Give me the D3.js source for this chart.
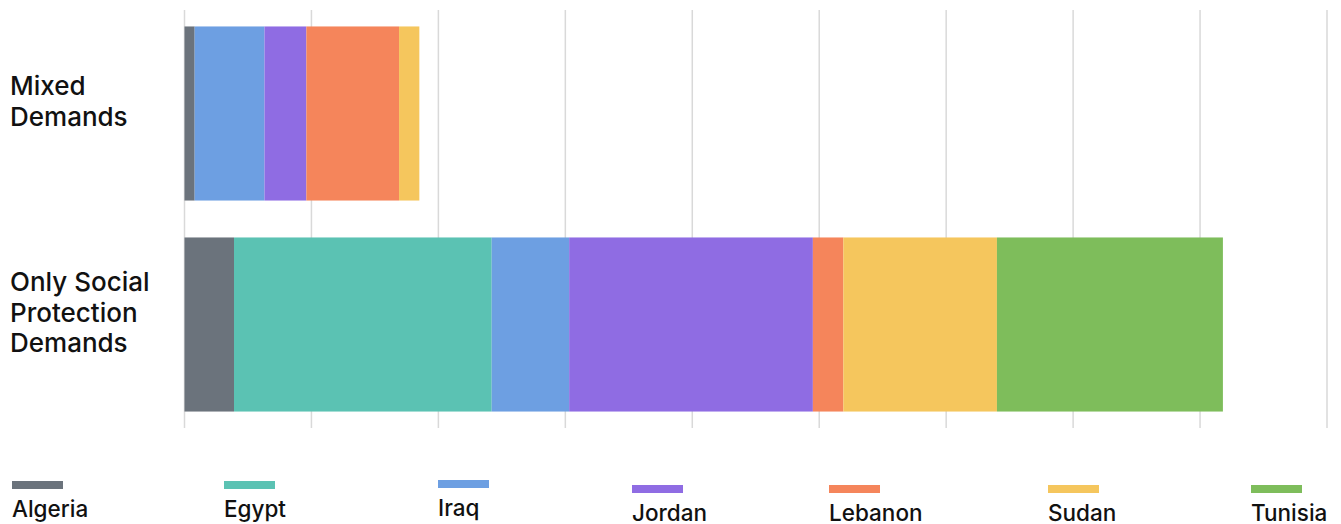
<!DOCTYPE html>
<html lang="en">
<head>
    <meta charset="UTF-8">
    <title>Demands by country</title>
    <script src="https://d3js.org/d3.v7.min.js"></script>
    <style>
        body { margin: 0; background: #fff; }
        text {
            font-family: Inter, "Noto Sans", sans-serif;
            font-weight: 500;
            fill: #111;
        }
        .cat { font-size: 26px; }
        .legend text { font-size: 22.5px; }
        .grid line { stroke: #d9d9d9; stroke-width: 1.5; }
    </style>
</head>
<body>
<script>
    const width = 1341;
    const height = 524;

    // data
    const categories = ["Mixed Demands", "Only Social Protection Demands"];
    const categoryLines = [["Mixed", "Demands"], ["Only Social", "Protection", "Demands"]];
    const countries = ["Algeria", "Egypt", "Iraq", "Jordan", "Lebanon", "Sudan", "Tunisia"];
    const mixed = [0.8, 0, 5.5, 3.3, 7.3, 1.6, 0];
    const socialOnly = [3.9, 20.3, 6.1, 19.2, 2.4, 12.1, 17.8];
    const colors = ["#6b737c", "#5bc2b3", "#6d9fe2", "#8f6ce3", "#f5855b", "#f5c65d", "#7ebd5b"];
    const ticks = [0, 10, 20, 30, 40, 50, 60, 70, 80, 90];

    // legend layout
    const legendX = [12, 224, 438, 632, 829, 1048, 1251];
    const legendDy = [0, 0, -1, 4, 4, 4, 4];

    const rows = categories.map((c, i) => {
        const vals = i === 0 ? mixed : socialOnly;
        const r = { category: c };
        countries.forEach((k, j) => r[k] = vals[j]);
        return r;
    });

    const x = d3.scaleLinear().domain([0, 90]).range([184.5, 1327]);
    const y = d3.scaleBand().domain(categories).range([10, 428])
        .paddingInner(0.175).paddingOuter(0.078);
    const color = d3.scaleOrdinal().domain(countries).range(colors);

    const series = d3.stack().keys(countries)(rows);

    const svg = d3.select("body").append("svg")
        .attr("width", width).attr("height", height);

    // gridlines
    svg.append("g").attr("class", "grid")
        .selectAll("line")
        .data(ticks)
        .join("line")
        .attr("x1", d => x(d)).attr("x2", d => x(d))
        .attr("y1", 10).attr("y2", 428);

    // bars
    svg.append("g")
        .selectAll("g")
        .data(series)
        .join("g")
        .attr("fill", d => color(d.key))
        .selectAll("rect")
        .data(d => d.filter(p => p[1] - p[0] > 0))
        .join("rect")
        .attr("x", d => x(d[0]))
        .attr("width", d => x(d[1]) - x(d[0]))
        .attr("y", d => y(d.data.category))
        .attr("height", y.bandwidth());

    // category labels
    const lineH = 30.5;
    svg.append("g")
        .selectAll("text")
        .data(categories)
        .join("text")
        .attr("class", "cat")
        .attr("x", 10)
        .attr("y", (d, i) => {
            const n = categoryLines[i].length;
            return y(d) + y.bandwidth() / 2 - 3 - (n - 1) * lineH / 2;
        })
        .each(function(d, i) {
            d3.select(this).selectAll("tspan")
                .data(categoryLines[i])
                .join("tspan")
                .attr("x", 10)
                .attr("dy", (t, k) => k === 0 ? 0 : lineH)
                .text(t => t);
        });

    // legend
    const legend = svg.append("g").attr("class", "legend")
        .selectAll("g")
        .data(countries)
        .join("g")
        .attr("transform", (d, i) => `translate(${legendX[i]},${481 + legendDy[i]})`);

    legend.append("rect")
        .attr("width", 51).attr("height", 8)
        .attr("fill", d => color(d));

    legend.append("text")
        .attr("x", 0).attr("y", 35.5)
        .text(d => d);
</script>
</body>
</html>
